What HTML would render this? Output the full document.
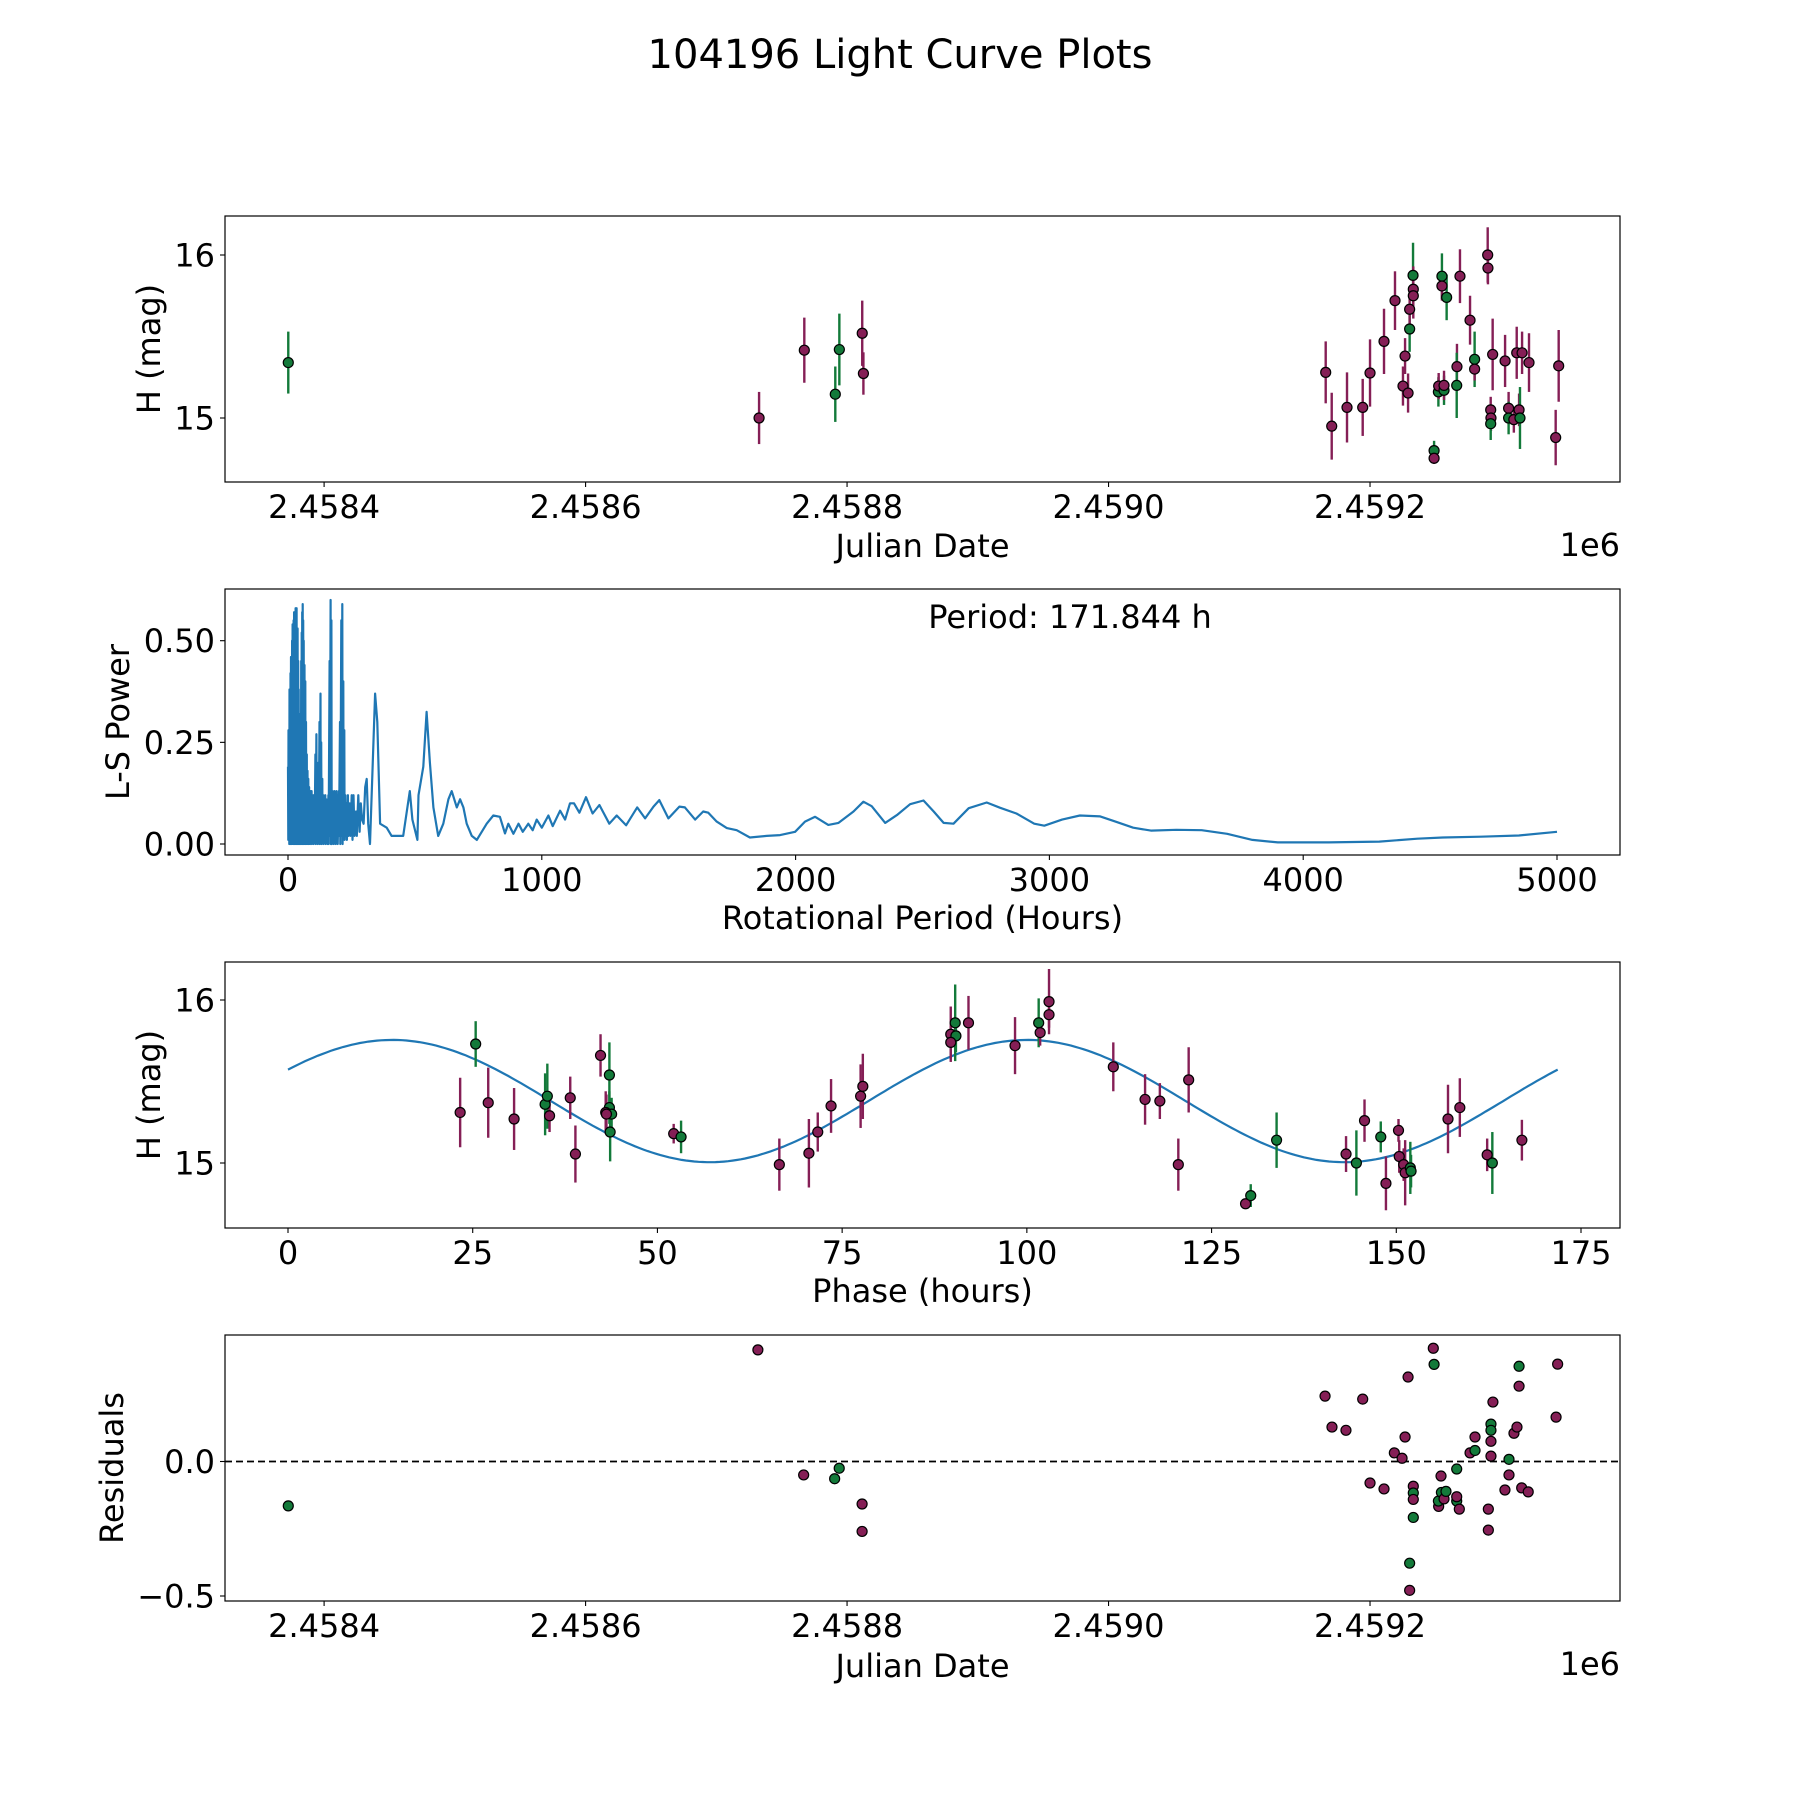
<!DOCTYPE html>
<html><head><meta charset="utf-8"><style>
html,body{margin:0;padding:0;background:#fff;}
svg text{font-family:"DejaVu Sans","Liberation Sans",sans-serif;fill:#000;}
</style></head><body>
<svg id="fig" xmlns="http://www.w3.org/2000/svg" width="1800" height="1800" viewBox="0 0 1800 1800">
<rect width="1800" height="1800" fill="#fff"/>
<text x="900" y="68" font-size="40" text-anchor="middle">104196 Light Curve Plots</text>
</svg>
<script>
// ---------- Data: plot 1 (light curve vs Julian Date) ----------
const lcJD = [2458372.6,2458732.7,2458767.3,2458794.1,2458791.0,2458811.6,2458812.5,
2459166.1,2459170.7,2459182.4,2459194.4,2459200.0,2459210.7,2459219.1,2459226.8,2459225.2,2459229.1,
2459230.3,2459230.3,2459232.9,2459233.1,2459233.1,2459249.0,2459249.0,2459252.3,2459252.5,2459256.6,2459256.6,
2459255.0,2459255.0,2459258.6,2459266.5,2459266.3,2459268.8,2459276.5,2459280.0,2459280.0,2459290.0,2459290.2,
2459292.3,2459292.5,2459292.3,2459293.8,2459303.3,2459306.0,2459306.0,2459310.0,2459314.0,2459314.7,2459312.2,
2459316.3,2459321.6,2459342.0,2459344.3];
const lcMag = [15.34,15.00,15.416,15.42,15.146,15.52,15.273,
15.28,14.95,15.065,15.065,15.276,15.47,15.72,15.38,15.196,15.153,
15.546,15.667,15.875,15.79,15.75,14.80,14.753,15.16,15.196,15.17,15.2,
15.87,15.81,15.74,15.315,15.2,15.87,15.6,15.36,15.30,16.0,15.92,
15.05,15.0,14.965,15.39,15.35,15.06,15.0,14.99,15.05,15.0,15.40,
15.40,15.34,14.88,15.32];
const lcErr = [0.19,0.16,0.20,0.22,0.17,0.20,0.13,
0.19,0.205,0.215,0.175,0.206,0.20,0.18,0.11,0.12,0.12,
0.14,0.13,0.20,0.14,0.14,0.06,0.035,0.09,0.08,0.09,0.09,
0.14,0.09,0.14,0.14,0.20,0.165,0.15,0.17,0.07,0.17,0.10,
0.08,0.08,0.10,0.22,0.16,0.10,0.10,0.08,0.10,0.19,0.16,
0.13,0.18,0.17,0.22];
const lcCol = ["G","P","P","G","G","P","P",
"P","P","P","P","P","P","P","P","P","P",
"G","P","G","P","P","G","P","G","P","G","P",
"G","P","G","P","G","P","P","G","P","P","P",
"P","P","G","P","P","P","G","P","P","G","P",
"P","P","P","P"];

// ---------- Data: plot 2 (periodogram) ----------
const lsPeriod = [0,1,2,3,4,5,6,7,8,9,10,11,12,13,14,15,16,17,18,19,20,21,22,23,24,25,26,27,28,29,30,31,32,33,34,35,36,37,38,39,40,41,42,43,44,45,46,47,48,49,50,51,52,53,54,55,56,57,58,59,60,61,62,63,
65,66,68,69,71,72,74,75,77,78,80,81,83,84,86,87,89,90,93,94,97,98,100,101,104,105,108,109,112,113,116,117,120,121,124,125,128,129,131,132,135,136,139,140,143,144,147,148,151,152,155,156,159,160,164,165,168,169,171,172,175,176,179,180,183,184,187,188,191,192,195,196,200,201,205,206,210,211,214,215,218,219,222,223,226,227,231,232,236,238,243,246,251,254,258,262,268,271,277,282,287,292,298,304,310,316,323,
343,352,363,389,408,435,454,480,490,510,514,533,546,559,573,592,612,632,645,665,678,691,704,724,744,783,809,
835,855,868,888,908,925,947,964,980,1000,1026,1043,1072,1092,1111,1127,1148,1174,1200,1227,1266,1295,1332,1376,1407,1440,1463,1499,1542,1564,1604,1636,1656,1689,1729,1768,1820,1886,1939,1998,2037,2077,2129,2169,2228,2267,2300,2353,2399,2451,2504,2544,2583,2622,2682,2753,2806,
2870,2940,2980,3050,3120,3200,3260,3330,3400,3500,3600,3700,3800,3900,4100,4300,4450,4550,4700,4850,5000];
const lsPower = [0.19,0.01,0.28,0.02,0.22,0,0.38,0.03,0.33,0,0.42,0.02,0.46,0.05,0.40,0,0.50,0.03,0.54,0.01,0.48,0,0.55,0.04,0.57,0,0.52,0.02,0.57,0.05,0.58,0,0.55,0.03,0.58,0,0.50,0.02,0.53,0,0.45,0.03,0.38,0,0.32,0.02,0.30,0,0.28,0.03,0.32,0,0.45,0.02,0.52,0,0.57,0.04,0.59,0,0.55,0.02,0.50,0,
0.44,0.02,0.40,0,0.30,0.02,0.22,0,0.18,0.02,0.16,0,0.14,0.02,0.13,0,0.13,0.01,0.13,0,0.12,0.01,0.12,0,0.10,0.01,0.22,0,0.27,0.01,0.15,0,0.20,0.02,0.30,0,0.37,0.02,0.25,0,0.16,0.01,0.12,0,0.10,0.02,0.12,0,0.11,0.01,0.10,0,0.12,0,0.45,0.02,0.60,0,0.55,0,0.13,0.01,0.12,0,0.13,0.01,0.10,0,0.13,0.01,0.12,0,0.13,0.02,0.30,0,0.55,0.02,0.59,0,0.40,0.02,0.28,0.01,0.12,0.02,0.10,0.01,0.12,0.02,0.10,0.02,0.12,0.01,0.12,0.02,0.08,0.02,0.12,0.03,0.10,0.06,0.05,0.14,0.16,0.05,0.0,
0.37,0.30,0.05,0.04,0.02,0.02,0.02,0.13,0.06,0.01,0.12,0.19,0.325,0.20,0.09,0.02,0.05,0.11,0.13,0.09,0.11,0.09,0.05,0.02,0.01,0.05,0.07,
0.067,0.026,0.05,0.025,0.05,0.03,0.05,0.034,0.06,0.04,0.07,0.044,0.082,0.06,0.10,0.10,0.077,0.115,0.075,0.096,0.05,0.07,0.046,0.09,0.063,0.092,0.108,0.063,0.092,0.09,0.06,0.08,0.077,0.055,0.039,0.034,0.016,0.02,0.022,0.03,0.055,0.067,0.047,0.052,0.08,0.104,0.093,0.052,0.071,0.098,0.107,0.08,0.052,0.05,0.088,0.102,0.089,
0.075,0.05,0.045,0.06,0.07,0.068,0.055,0.04,0.033,0.035,0.034,0.025,0.01,0.004,0.004,0.006,0.013,0.016,0.018,0.021,0.03];
const lsTicksX = [0,1000,2000,3000,4000,5000];
const lsTicksY = [0,0.25,0.5];
const lsTickLabelsY = ["0.00","0.25","0.50"];
const bestPeriod = 171.844;

// ---------- Data: plot 3 (phased) ----------
const phPhase = [23.3,25.4,27.1,30.6,34.8,35.1,35.4,38.2,38.9,42.3,43.5,43.5,43.0,43.8,43.1,43.6,52.2,53.2,66.5,70.5,71.7,73.5,77.5,77.8,
90.3,89.7,90.4,89.7,92.1,98.4,101.6,101.8,103.0,103.0,111.7,116.0,118.0,120.5,121.9,129.6,130.3,133.8,
143.2,144.6,145.7,147.9,148.6,150.3,150.4,151.0,151.2,151.9,152.0,157.0,158.6,162.3,163.0,167.0];
const phMag = [15.31,15.73,15.37,15.27,15.36,15.41,15.29,15.40,15.055,15.66,15.54,15.34,15.31,15.30,15.30,15.19,15.18,15.16,14.99,15.06,15.19,15.35,15.41,15.47,
15.86,15.79,15.78,15.74,15.86,15.72,15.86,15.80,15.99,15.91,15.59,15.39,15.38,14.99,15.51,14.75,14.80,15.14,
15.055,15.0,15.26,15.16,14.875,15.2,15.04,14.99,14.94,14.97,14.95,15.27,15.34,15.05,15.0,15.14];
const phErr = [0.213,0.14,0.215,0.19,0.19,0.2,0.1,0.13,0.175,0.13,0.2,0.1,0.13,0.1,0.12,0.18,0.06,0.1,0.16,0.21,0.12,0.165,0.195,0.2,
0.235,0.17,0.1,0.1,0.165,0.175,0.15,0.08,0.2,0.08,0.15,0.155,0.11,0.16,0.2,0.03,0.07,0.17,
0.11,0.2,0.13,0.095,0.165,0.07,0.1,0.1,0.2,0.16,0.1,0.21,0.18,0.1,0.19,0.125];
const phCol = ["P","G","P","P","G","G","P","P","P","P","G","G","P","G","P","G","P","G","P","P","P","P","P","P",
"G","P","G","P","P","P","G","P","P","P","P","P","P","P","P","P","G","G",
"P","G","P","G","P","P","P","P","P","G","G","P","P","P","G","P"];
const modelMean = 15.38, modelAmp = 0.375, modelPeakPhase = 14.1;
const phTicksX = [0,25,50,75,100,125,150,175];

// ---------- Data: plot 4 (residuals) ----------
const resJD = [2458372.6,2458731.8,2458766.8,2458790.5,2458794.0,2458811.5,2458811.5,
2459165.6,2459170.9,2459181.6,2459194.4,2459200.0,2459210.7,2459218.6,2459224.5,2459226.8,2459229.1,2459230.3,2459230.3,
2459233.1,2459233.1,2459233.1,2459233.1,2459248.4,2459249.0,2459252.5,2459252.3,2459254.3,2459254.6,2459256.6,2459258.1,
2459266.3,2459266.3,2459266.3,2459268.3,2459276.5,2459280.3,2459280.3,2459290.5,2459290.5,2459292.5,2459292.5,2459292.5,2459292.5,
2459294.0,2459303.2,2459306.3,2459306.3,2459310.1,2459312.4,2459314.0,2459314.0,2459316.0,2459321.0,2459342.3,2459343.5];
const resVal = [-0.165,0.415,-0.05,-0.064,-0.025,-0.158,-0.26,
0.243,0.128,0.116,0.232,-0.08,-0.102,0.032,0.012,0.091,0.314,-0.378,-0.479,
-0.092,-0.117,-0.141,-0.208,0.421,0.361,-0.167,-0.147,-0.054,-0.115,-0.139,-0.111,
-0.028,-0.147,-0.131,-0.177,0.032,0.041,0.091,-0.177,-0.255,0.139,0.116,0.075,0.02,
0.221,-0.106,-0.05,0.008,0.105,0.128,0.354,0.28,-0.098,-0.113,0.165,0.362];
const resCol = ["G","P","P","G","G","P","P",
"P","P","P","P","P","P","P","P","P","P","G","P",
"P","G","P","G","P","G","P","G","P","G","P","G",
"G","G","P","P","P","G","P","P","P","G","G","P","P",
"P","P","P","G","P","P","G","P","P","P","P","P"];
const jdTicks = [2458400,2458600,2458800,2459000,2459200];
const jdTickLabels = ["2.4584","2.4586","2.4588","2.4590","2.4592"];
const magTicks = [15,16];
const resTicks = [-0.5,0.0];
const resTickLabels = ["\u22120.5","0.0"];

// ---------- Rendering ----------
const NS = "http://www.w3.org/2000/svg";
const svg = document.getElementById("fig");
const COLORS = {P:"#851f56", G:"#137a3a"};
const L = 225, R = 1620;
function mk(tag, attrs, parent){
  const e = document.createElementNS(NS, tag);
  for (const k in attrs) e.setAttribute(k, attrs[k]);
  (parent||svg).appendChild(e);
  return e;
}
function lin(d0,d1,r0,r1){ return v => r0 + (v-d0)*(r1-r0)/(d1-d0); }

function frame(name){
  const g = mk("g", {});
  
  
  return g;
}
function border(g, top, bot){
  const r = mk("rect", {x:L, y:top, width:R-L, height:bot-top, fill:"none", stroke:"#000", "stroke-width":1.2}, g);
  
  
}
function xTicks(g, ticks, labels, sx, bot){
  ticks.forEach((t,i)=>{
    const x = sx(t);
    const ln = mk("line", {x1:x, x2:x, y1:bot, y2:bot+5, stroke:"#000", "stroke-width":1.1}, g);
    
    
    const tx = mk("text", {x:x, y:bot+36, "font-size":32, "text-anchor":"middle"}, g);
    tx.textContent = labels[i];
    
    
  });
}
function yTicks(g, ticks, labels, sy){
  ticks.forEach((t,i)=>{
    const y = sy(t);
    const ln = mk("line", {x1:L-5, x2:L, y1:y, y2:y, stroke:"#000", "stroke-width":1.1}, g);
    
    
    const tx = mk("text", {x:L-10, y:y+11.5, "font-size":32, "text-anchor":"end"}, g);
    tx.textContent = labels[i];
    
    
  });
}
function xLabel(g, text, y){
  const t = mk("text", {x:(L+R)/2, y:y, "font-size":32, "text-anchor":"middle"}, g);
  t.textContent = text;
  
  
}
function yLabel(g, text, x, cy){
  const t = mk("text", {x:x, y:cy, "font-size":32, "text-anchor":"middle", transform:`rotate(-90 ${x} ${cy})`}, g);
  t.textContent = text;
  
  
}
function offsetText(g, y){
  const t = mk("text", {x:R, y:y, "font-size":32, "text-anchor":"end"}, g);
  t.textContent = "1e6";
  
  
}
function errPoints(g, xs, ys, es, cs, sx, sy, nm){
  xs.forEach((v,i)=>{
    const x = sx(v);
    const e = mk("line", {x1:x, x2:x, y1:sy(ys[i]+es[i]), y2:sy(ys[i]-es[i]), stroke:COLORS[cs[i]], "stroke-width":2.4}, g);
    
    
  });
  xs.forEach((v,i)=>{
    const c = mk("circle", {cx:sx(v), cy:sy(ys[i]), r:5, fill:COLORS[cs[i]], stroke:"#000", "stroke-width":1.2}, g);
    
    
  });
}
const JD0 = 2458324.2, JD1 = 2459391.2;

// Plot 1
{
  const top=216, bot=482;
  const g = frame("light-curve-panel");
  const sx = lin(JD0, JD1, L, R), sy = lin(16, 15, 255, 418);
  errPoints(g, lcJD, lcMag, lcErr, lcCol, sx, sy, 'observation-point');
  border(g, top, bot);
  xTicks(g, jdTicks, jdTickLabels, sx, bot);
  yTicks(g, magTicks, magTicks.map(String), sy);
  xLabel(g, "Julian Date", 557);
  yLabel(g, "H (mag)", 160, (top+bot)/2);
  offsetText(g, 556);
}
// Plot 2
{
  const top=589, bot=855;
  const g = frame("periodogram-panel");
  const sx = lin(0, 5000, 288, 1557), sy = lin(0, 0.5, 844, 640.7);
  const pts = lsPeriod.map((p,i)=> sx(p).toFixed(1)+","+sy(lsPower[i]).toFixed(1)).join(" ");
  const pl = mk("polyline", {points:pts, fill:"none", stroke:"#1f77b4", "stroke-width":2.2, "stroke-linejoin":"round"}, g);
  
  
  border(g, top, bot);
  xTicks(g, lsTicksX, lsTicksX.map(String), sx, bot);
  yTicks(g, lsTicksY, lsTickLabelsY, sy);
  xLabel(g, "Rotational Period (Hours)", 929);
  yLabel(g, "L-S Power", 129, (top+bot)/2);
  const pt = mk("text", {x:1070, y:628, "font-size":32, "text-anchor":"middle"}, g);
  pt.textContent = "Period: " + bestPeriod.toFixed(3) + " h";
  
  
}
// Plot 3
{
  const top=962, bot=1228;
  const g = frame("phase-folded-panel");
  const sx = lin(0, 175, 288, 1581), sy = lin(16, 15, 1000, 1163);
  const pts = [];
  for (let k=0;k<=300;k++){
    const ph = bestPeriod*k/300;
    const m = modelMean + modelAmp*Math.cos(4*Math.PI*(ph-modelPeakPhase)/bestPeriod);
    pts.push(sx(ph).toFixed(1)+","+sy(m).toFixed(1));
  }
  const pl = mk("polyline", {points:pts.join(" "), fill:"none", stroke:"#1f77b4", "stroke-width":2.2}, g);
  
  
  errPoints(g, phPhase, phMag, phErr, phCol, sx, sy, 'phased-point');
  border(g, top, bot);
  xTicks(g, phTicksX, phTicksX.map(String), sx, bot);
  yTicks(g, magTicks, magTicks.map(String), sy);
  xLabel(g, "Phase (hours)", 1302);
  yLabel(g, "H (mag)", 160, (top+bot)/2);
}
// Plot 4
{
  const top=1335, bot=1601;
  const g = frame("residuals-panel");
  const sx = lin(JD0, JD1, L, R), sy = lin(0, -0.5, 1461.5, 1596);
  const zl = mk("line", {x1:L, x2:R, y1:sy(0), y2:sy(0), stroke:"#000", "stroke-width":1.8, "stroke-dasharray":"7,4"}, g);
  
  
  resJD.forEach((v,i)=>{
    const c = mk("circle", {cx:sx(v), cy:sy(resVal[i]), r:5, fill:COLORS[resCol[i]], stroke:"#000", "stroke-width":1.2}, g);
    
    
  });
  border(g, top, bot);
  xTicks(g, jdTicks, jdTickLabels, sx, bot);
  yTicks(g, resTicks, resTickLabels, sy);
  xLabel(g, "Julian Date", 1677);
  yLabel(g, "Residuals", 123, (top+bot)/2);
  offsetText(g, 1675);
}
</script>
</body></html>
